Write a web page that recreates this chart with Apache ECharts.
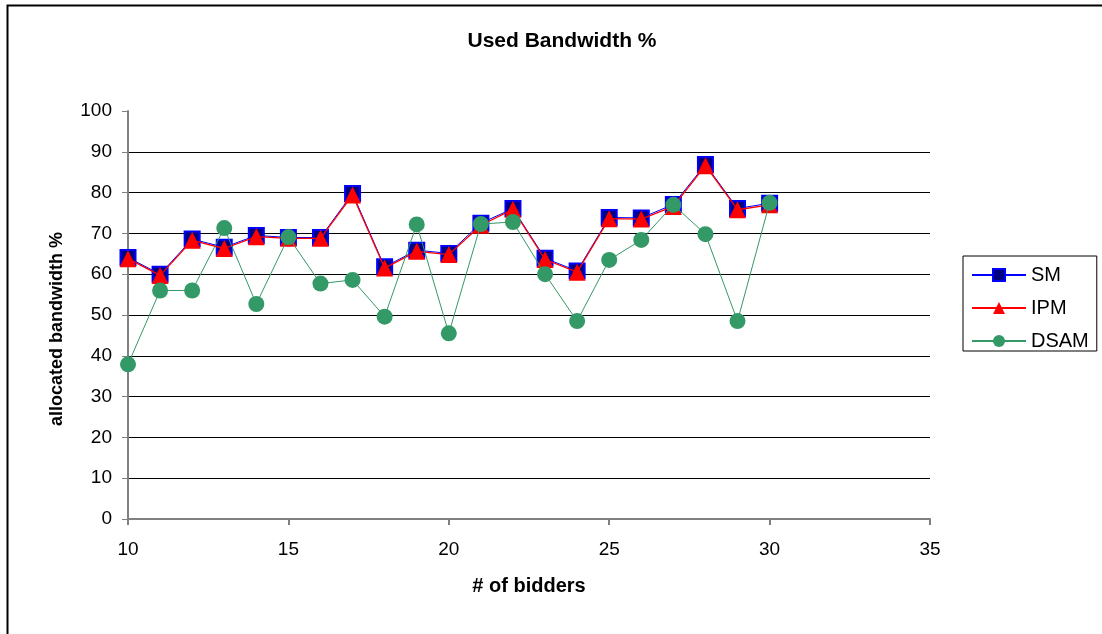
<!DOCTYPE html>
<html>
<head>
<meta charset="utf-8">
<script src="https://cdn.jsdelivr.net/npm/echarts@6/dist/echarts.min.js"></script>
<style>
  html, body { margin: 0; padding: 0; background: #fff; }
  #chart { width: 1102px; height: 634px; }
</style>
</head>
<body>
<div id="chart"></div>
<script>
// Number of bidders (x values)
const bidders = [10, 11, 12, 13, 14, 15, 16, 17, 18, 19, 20, 21, 22, 23, 24, 25, 26, 27, 28, 29, 30];

// Allocated bandwidth % per method
const smValues   = [64.1, 60.0, 68.6, 66.6, 69.5, 69.0, 69.0, 79.8, 61.8, 65.9, 65.1, 72.5, 76.1, 63.9, 60.8, 73.9, 73.8, 77.1, 86.9, 76.1, 77.4];
const ipmValues  = [63.8, 59.7, 68.3, 66.3, 69.2, 68.8, 68.8, 79.4, 61.5, 65.6, 64.8, 72.0, 75.9, 63.6, 60.5, 73.6, 73.5, 76.6, 86.6, 75.8, 77.0];
const dsamValues = [37.9, 56.0, 56.0, 71.3, 52.7, 69.1, 57.7, 58.6, 49.6, 72.2, 45.5, 72.3, 72.8, 60.0, 48.5, 63.5, 68.4, 77.0, 69.8, 48.5, 77.5];

const yTicks = { min: 0, max: 100, step: 10 };
const xTicks = { min: 10, max: 35, step: 5 };

const pairs = vals => bidders.map((b, i) => [b, vals[i]]);

const FONT = '"Liberation Sans", Arial, sans-serif';

// Horizontal grid lines: black for every tick except the top one (100)
const gridCount = (yTicks.max - yTicks.min) / yTicks.step + 1;
const gridColors = Array.from({ length: gridCount }, (_, i) => (i === gridCount - 1 ? 'rgba(0,0,0,0)' : '#000'));

const chart = echarts.init(document.getElementById('chart'), null, { renderer: 'canvas' });
chart.setOption({
  animation: false,
  backgroundColor: '#fff',
  title: {
    text: 'Used Bandwidth %',
    left: 557, top: 26, textAlign: 'center',
    textStyle: { fontFamily: FONT, fontSize: 21, fontWeight: 'bold', color: '#000' }
  },
  graphic: [
    {
      type: 'rect', left: 5, top: 3, silent: true,
      shape: { width: 1200, height: 700 },
      style: { fill: 'none', stroke: '#000', lineWidth: 2 }
    },
    {
      type: 'text', x: 57, y: 329, rotation: Math.PI / 2, silent: true,
      style: {
        text: 'allocated bandwidth %',
        fontFamily: FONT, fontSize: 18, fontWeight: 'bold', fill: '#000',
        align: 'center', verticalAlign: 'middle'
      }
    }
  ],
  legend: {
    orient: 'vertical',
    left: 963, top: 256,
    padding: [9, 8, 0, 8],
    itemWidth: 54, itemHeight: 15, itemGap: 13,
    borderColor: '#000', borderWidth: 1,
    textStyle: { fontFamily: FONT, fontSize: 20, lineHeight: 18, color: '#000' },
    data: ['SM', 'IPM', 'DSAM']
  },
  grid: { left: 128, right: 172, top: 111, bottom: 115, containLabel: false },
  xAxis: {
    type: 'value',
    min: xTicks.min, max: xTicks.max, interval: xTicks.step,
    name: '# of bidders', nameLocation: 'middle', nameGap: 57,
    nameTextStyle: { fontFamily: FONT, fontSize: 20, fontWeight: 'bold', color: '#000' },
    axisLine: { onZero: false, lineStyle: { color: '#808080', width: 2 } },
    axisTick: { show: true, inside: false, length: 6, lineStyle: { color: '#808080', width: 2 } },
    axisLabel: { fontFamily: FONT, fontSize: 19, color: '#000', margin: 21 },
    splitLine: { show: false }
  },
  yAxis: {
    type: 'value',
    min: yTicks.min, max: yTicks.max, interval: yTicks.step,
    axisLine: { show: true, lineStyle: { color: '#808080', width: 2 } },
    axisTick: { show: true, inside: false, length: 6, lineStyle: { color: '#808080', width: 1 } },
    axisLabel: { fontFamily: FONT, fontSize: 19, color: '#000', margin: 16 },
    splitLine: { show: true, lineStyle: { color: gridColors, width: 1 } }
  },
  series: [
    {
      name: 'SM', type: 'line', data: pairs(smValues),
      symbol: 'rect', symbolSize: 15,
      lineStyle: { color: '#0000ff', width: 1 },
      itemStyle: { color: '#000080', borderColor: '#0000ff', borderWidth: 2 },
      z: 2
    },
    {
      name: 'IPM', type: 'line', data: pairs(ipmValues),
      symbol: 'triangle', symbolSize: 17,
      lineStyle: { color: '#ff0000', width: 1.3 },
      itemStyle: { color: '#ff0000', borderWidth: 0 },
      z: 3
    },
    {
      name: 'DSAM', type: 'line', data: pairs(dsamValues),
      symbol: 'circle', symbolSize: 16,
      lineStyle: { color: '#339966', width: 1 },
      itemStyle: { color: '#339966', borderWidth: 0 },
      z: 4
    }
  ]
});
</script>
</body>
</html>
